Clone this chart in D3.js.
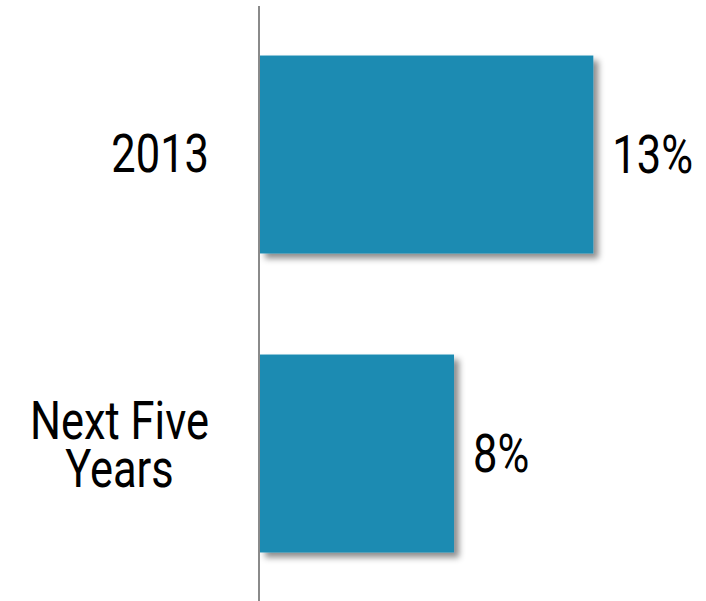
<!DOCTYPE html>
<html>
<head>
<meta charset="utf-8">
<script src="https://cdn.jsdelivr.net/npm/d3@7"></script>
<style>
  html, body { margin: 0; padding: 0; background: #ffffff; }
  svg { display: block; }
  text { font-family: Roboto, "Liberation Sans", sans-serif; fill: #000; }
</style>
</head>
<body>
<svg id="chart" width="706" height="601"></svg>
<script>
const categories = ["2013", "Next Five Years"];
const categoryLines = [["2013"], ["Next Five", "Years"]];
const values = [13.4, 7.8];
const valueLabels = ["13%", "8%"];

const W = 706, H = 601;
const svg = d3.select("#chart");

const defs = svg.append("defs");
const f = defs.append("filter").attr("id", "shadow")
  .attr("x", "-10%").attr("y", "-10%").attr("width", "130%").attr("height", "130%");
f.append("feDropShadow")
  .attr("dx", 5).attr("dy", 5).attr("stdDeviation", 3)
  .attr("flood-color", "#000").attr("flood-opacity", 0.45);

const y = d3.scaleBand().domain(categories).range([5, 603])
  .paddingInner(0.338).paddingOuter(0.169);
const x = d3.scaleLinear().domain([0, 16]).range([260, 658]);

// bars
svg.append("g").selectAll("rect").data(categories).join("rect")
  .attr("x", x(0))
  .attr("y", d => y(d))
  .attr("width", (d, i) => x(values[i]) - x(0))
  .attr("height", y.bandwidth())
  .attr("fill", "#1b8bb2")
  .attr("filter", "url(#shadow)");

// axis line
svg.append("line")
  .attr("x1", 259).attr("x2", 259)
  .attr("y1", 6).attr("y2", H)
  .attr("stroke", "#8a8a8a").attr("stroke-width", 2);

const fs = 53;
const sx = 0.82; // condensed look

// category labels
categories.forEach((c, i) => {
  const lines = categoryLines[i];
  const lh = 48;
  const cy = y(c) + y.bandwidth() / 2 - (lines.length > 1 ? 9 : 1);
  const g = svg.append("g");
  const t = g.append("text")
    .attr("font-size", fs)
    .attr("text-anchor", "middle");
  lines.forEach((l, j) => {
    t.append("tspan")
      .attr("x", 0)
      .attr("y", cy + (j - (lines.length - 1) / 2) * lh)
      .attr("dy", "0.35em")
      .text(l);
  });
  const bb = t.node().getBBox();
  g.attr("transform", `translate(${209 - bb.width * sx / 2},0) scale(${sx},1)`);
});

// value labels
categories.forEach((c, i) => {
  svg.append("g")
    .attr("transform", `translate(${x(values[i]) + 19},${y(c) + y.bandwidth() / 2}) scale(${sx},1)`)
    .append("text")
    .attr("dy", "0.35em")
    .attr("font-size", fs)
    .text(valueLabels[i]);
});
</script>
</body>
</html>
